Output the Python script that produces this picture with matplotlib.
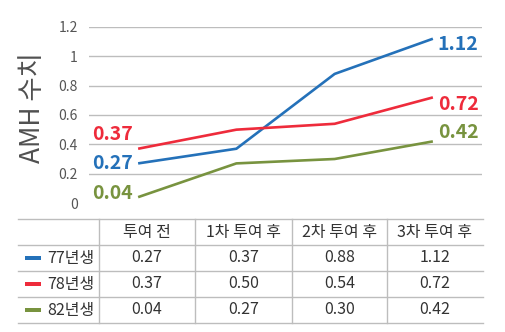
import matplotlib.pyplot as plt
from matplotlib.patches import Rectangle

plt.rcParams['font.family'] = ['Noto Sans CJK KR', 'DejaVu Sans']

# data
stages = ['투여 전', '1차 투여 후', '2차 투여 후', '3차 투여 후']
groups = ['77년생', '78년생', '82년생']
amh_77 = [0.27, 0.37, 0.88, 1.12]
amh_78 = [0.37, 0.50, 0.54, 0.72]
amh_82 = [0.04, 0.27, 0.30, 0.42]
yticks = [0, 0.2, 0.4, 0.6, 0.8, 1.0, 1.2]
ytick_labels = ['0', '0.2', '0.4', '0.6', '0.8', '1', '1.2']

series = [amh_77, amh_78, amh_82]
colors = ['#2471b9', '#ee2b3b', '#78933f']
# label nudges in pixels (start, end)
start_dy = [0, 14, 4]
end_dy = [-6, -7, 9]

W, H = 506, 332
fig = plt.figure(figsize=(W / 100, H / 100), dpi=100)

ax = fig.add_axes([89 / W, 1 - 203 / H, (482 - 89) / W, (203 - 27) / H])
x = list(range(len(stages)))
for vals, c, sdy, edy in zip(series, colors, start_dy, end_dy):
    ax.plot(x, vals, color=c, lw=1.9, solid_capstyle='butt')
    ax.annotate(f'{vals[0]:.2f}', (x[0], vals[0]), xytext=(-5, sdy),
                textcoords='offset pixels', ha='right', va='center',
                color=c, fontsize=14, fontweight='bold')
    ax.annotate(f'{vals[-1]:.2f}', (x[-1], vals[-1]), xytext=(5, edy),
                textcoords='offset pixels', ha='left', va='center',
                color=c, fontsize=14, fontweight='bold')

ax.set_xlim(-0.5, 3.5)
ax.set_ylim(0, 1.2)
ax.set_xticks([])
ax.set_yticks(yticks)
ax.set_yticklabels(ytick_labels, color='#555555', fontsize=10)
ax.tick_params(axis='y', length=0, pad=8)
ax.yaxis.grid(True, color='#bdbdbd', lw=1)
ax.yaxis.get_gridlines()[0].set_visible(False)
for s in ax.spines.values():
    s.set_visible(False)
ax.set_ylabel('AMH 수치', fontsize=19, color='#505050')
ax.yaxis.set_label_coords(-0.11, 0.54)

# table drawn underneath in pixel coordinates
tb = fig.add_axes([0, 0, 1, 1])
tb.set_xlim(0, W)
tb.set_ylim(H, 0)
tb.axis('off')
col_edges = [18, 99, 195, 292, 387, 483]
row_edges = [219, 245, 271, 297, 323]
for y in row_edges:
    tb.plot([col_edges[0], col_edges[-1]], [y, y], color='#bdbdbd', lw=1)
for xe in col_edges[1:-1]:
    tb.plot([xe, xe], [row_edges[0], row_edges[-1]], color='#bdbdbd', lw=1)

txt = dict(fontsize=11.5, color='#333333', va='center')
for j, s in enumerate(stages):
    cx = (col_edges[j + 1] + col_edges[j + 2]) / 2
    tb.text(cx, (row_edges[0] + row_edges[1]) / 2, s, ha='center', **txt)
for i, (g, vals, c) in enumerate(zip(groups, series, colors)):
    cy = (row_edges[i + 1] + row_edges[i + 2]) / 2
    tb.add_patch(Rectangle((25, cy - 2), 16, 4, color=c, lw=0))
    tb.text(47, cy, g, ha='left', **txt)
    for j, v in enumerate(vals):
        cx = (col_edges[j + 1] + col_edges[j + 2]) / 2
        tb.text(cx, cy, f'{v:.2f}', ha='center', **txt)

fig.savefig('out.png', dpi=100)
